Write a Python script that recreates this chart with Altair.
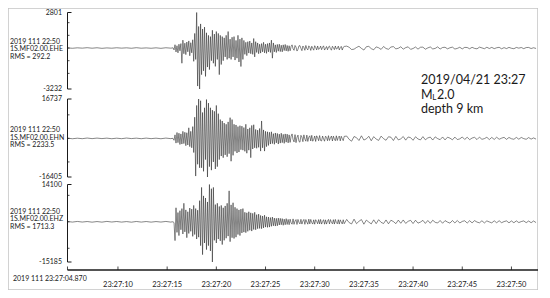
import altair as alt
import pandas as pd

# ---------------- data ----------------
HEADER = "2019 111 22:50"
STATIONS = ["1S.MF02.00.EHE", "1S.MF02.00.EHN", "1S.MF02.00.EHZ"]
RMS = ["RMS = 292.2", "RMS = 2233.5", "RMS = 1713.3"]
Y_MAX = [2801, 16737, 14100]
Y_MIN = [-3232, -16405, -15185]
Y_MINOR = [[-2000, -1000, 0, 1000, 2000], [-10000, 0, 10000], [-10000, 0, 10000]]
START_LABEL = "2019 111 23:27:04.870"
T_START, T_END = 4.87, 52.7
X_TICKS = [10, 15, 20, 25, 30, 35, 40, 45, 50]
TITLE_LINES = ["2019/04/21 23:27", "depth 9 km"]

# sampling of the three segments (start time, step in seconds)
PRE_T0, PRE_DT = 4.87, 0.5
ACT_T0, ACT_DT = 15.5, 0.1
CODA_T0, CODA_DT = 33.25, 0.25

pre_ehe = [10, -20, 15, -10, 25, -15, 20, -25, 10, -15, 20, -10, 15, -20, 25, -15, 10, -20, 15, -25, 20, -10]
pre_ehn = [100, -150, 80, -120, 150, -100, 130, -90, 110, -140, 90, -120, 150, -80, 100, -130, 120, -110, 90, -150, 130, -100]
pre_ehz = [120, -100, 140, -90, 110, -130, 100, -120, 150, -80, 120, -110, 90, -140, 130, -100, 110, -120, 100, -90, 140, -110]

act_ehe = [
    0, 20, -150, 260, -310, 180, -380, 300, -220, 350,
    -1200, 620, -450, 380, -520, 470, -300, 560, -610, 420,
    -380, 650, -1050, 1150, -900, 2801, -3000, 1700, -3232, 1900,
    -2100, 1500, -1800, 1650, -2240, 1200, -1500, 1000, -1700, 900,
    -1000, 1400, -1200, 1100, -1450, 1300, -900, 1150, -2100, 1000,
    -1300, 900, -1000, 800, -700, 1000, -900, 1300, -800, 700,
    -900, 850, -700, 900, -950, 600, -800, 1000, -1100, 700,
    -1460, 800, -900, 600, -500, 450, -600, 500, -400, 550,
    -450, 400, -500, 750, -700, 500, -350, 400, -450, 300,
    -400, 350, -300, 450, -380, 300, -420, 350, -300, 400,
    -350, 620, -800, 400, -300, 250, -350, 280, -250, 300,
    -280, 220, -300, 250, -200, 280, -230, 200, -260, 180,
    -220, 120, 250, -60, -180, 200, 80, -240, -100, 170,
    190, -30, -210, 160, 40, -180, 200, -50, -150, 170,
    60, -190, 140, -20, -170, 180, 50, -150, 160, -110,
    -40, 150, -130, 60, 170, -160, -30, 120, -140, 90,
    150, -60, -170, 140, 20, -130, 160, -80, -40, 150,
    -150, 30, 130, -160, 60, 120,
]
act_ehn = [
    0, 0, -800, 1500, -2000, 2500, -1800, 2200, -2600, 1900,
    -2400, 3000, -2200, 2600, -3100, 2400, -2800, 4500, -3500, 3000,
    -4000, 5000, -6000, 9000, -16000, 14000, -11000, 16737, -12500, 16000,
    -12500, 11000, -14000, 13000, -9000, 16500, -16405, 15000, -12000, 13000,
    -13500, 12000, -10000, 11500, -13000, 14000, -12000, 10500, -9000, 8000,
    -7500, 7400, -8200, 6500, -7000, 6000, -7800, 7000, -6500, 8800,
    -9700, 8000, -7200, 6000, -5500, 5700, -6200, 5000, -5800, 5400,
    -4800, 5200, -5000, 4600, -5500, 6000, -6300, 4000, -5000, 4500,
    -8200, 5500, -4500, 5800, -4000, 3800, -4200, 3500, -3800, 4200,
    -5400, 7400, -4000, 3600, -5400, 3000, -3500, 2800, -3000, 2600,
    -2400, 2800, -2200, 2000, -2500, 2300, -1900, 2100, -2400, 1800,
    -2000, 2200, -1800, 1700, -2100, 1900, -1600, 1800, -1900, 1500,
    -1700, 900, 1900, -500, -1500, 1600, -1800, 400, 1400, -1300,
    -1600, 1300, 600, -1400, 1500, -300, -1200, 1400, -1300, 500,
    1100, -1100, 1300, -1200, -400, 1000, -1300, 1100, 300, -1000,
    1200, -900, -1100, 1000, -200, -1200, 950, 500, -1000, 1150,
    -900, 200, 1000, -1100, 950, -300, -1000, 1100, -900, 400,
    1000, -1050, 900, -100, -950, 850,
]
act_ehz = [
    0, 0, -300, -7100, 5300, -4000, 3500, -5200, 4200, -3000,
    5000, -4600, 7000, -3800, 4500, -6000, 3800, -4400, 5200, -3600,
    4800, -5500, 6200, -4800, 5000, -6500, 4400, -5800, 8000, -9000,
    13000, -12400, 9800, -8000, 9000, -10500, 7500, -9000, 14100, -11000,
    12500, -15185, 13000, -7000, 6500, -8000, 7000, -6500, 5800, -7200,
    6200, -8600, 5300, -7000, 6000, -6200, 7000, -5400, 11700, -7500,
    6400, -6000, 7200, -6300, 5500, -5800, 5000, -4800, 4500, -5200,
    4800, -4200, 5000, -3900, 3600, -4100, 3400, -3600, 3800, -3200,
    3400, -3500, 3200, -2900, 3600, -3000, 2700, -2600, 2900, -2500,
    2400, -2600, 2200, -2300, 2500, -2000, 1900, -2100, 1800, -2000,
    1600, -1700, 1800, -1500, 1400, -1600, 1300, -1500, 1400, -1200,
    1300, -1100, 1200, -1300, 1000, -1100, 1200, -1000, 900, -1100,
    1000, -400, -900, 1100, -950, 300, 850, -1000, 900, -200,
    -800, 950, -850, 300, 900, -950, 850, -100, -900, 1000,
    -800, 900, -300, -850, 750, -900, 800, 200, -750, 850,
    -800, 900, -850, 100, 800, -900, 750, -850, 300, 900,
    -800, 850, -200, -750, 800, -850, 900, -300, -750, 800,
    -850, 750, -100, -800, 780, -720,
]

coda_ehe = [
    150, 60, -120, -90, 40, 140, -30, -160, 100, 130,
    -50, -140, 90, 20, -110, 120, -40, -100, 80, 110,
    -70, -20, 100, -90, 30, 95, -105, -40, 80, -90,
    60, 70, -95, 10, 85, -75, -30, 90, -80, 40,
    60, -65, 20, 70, -80, -30, 60, -70, 50, 40,
    -60, 55, -30, -65, 70, 10, -55, 60, -40, 50,
    -50, 20, 55, -60, 30, -45, 50, -20, -55, 45,
    -10, 40, -50, 35, 45, -40, 20, -35,
]
coda_ehn = [
    1000, -400, -1200, 800, 300, -900, 1100, -700, -200, 900,
    -1000, 750, -300, -850, 950, -100, -800, 700, 500, -900,
    850, -650, -200, 800, -750, 600, 300, -800, 700, -250,
    -650, 750, -600, 200, 550, -700, 650, -100, -550, 600,
    -650, 500, 100, -600, 550, -500, -200, 600, -450, 500,
    -550, 150, 450, -500, 550, -400, -100, 480, -500, 420,
    -450, 500, -380, 100, 450, -420, 400, -150, -380, 420,
    -350, 400, -100, -380, 350, -300, 200, -300,
]
coda_ehz = [
    900, -300, -800, 1000, -700, 200, 850, -900, 650, -100,
    -800, 750, -700, 800, -200, -650, 700, -750, 600, 100,
    -700, 650, -550, 700, -600, 200, 550, -650, 600, -500,
    -100, 550, -600, 500, -550, 600, -200, -450, 500, -550,
    450, -100, -500, 480, -420, 500, -450, 150, 400, -480,
    420, -400, 450, -100, -380, 400, -420, 350, -50, -400,
    380, -350, 400, -330, 100, 350, -380, 320, -350, 360,
    -300, 100, 340, -320, 300, -340, 310, -290,
]

TRACES = [
    (pre_ehe, act_ehe, coda_ehe),
    (pre_ehn, act_ehn, coda_ehn),
    (pre_ehz, act_ehz, coda_ehz),
]

# ---------------- layout / style ----------------
W, H = 530, 282
X_RANGE = [59.5, 530]
PX_TOP = [4.5, 91, 176.5]
PX_BOTTOM = [81, 169, 254]
LABEL_Y = [[33.7, 41.3, 48.7], [122, 129.7, 137.3], [203.7, 211.3, 218.7]]
AXIS_Y = 262
FONT = "Lato"
INK = "#1a1a1a"
TRACE_INK = "#222222"

xscale = alt.Scale(domain=[T_START, T_END], range=X_RANGE, nice=False, zero=False)


def yscale(k):
    return alt.Scale(domain=[Y_MIN[k], Y_MAX[k]], range=[PX_BOTTOM[k], PX_TOP[k]],
                     nice=False, zero=False)


def trace_frame(k):
    pre, act, coda = TRACES[k]
    t = [PRE_T0 + PRE_DT * i for i in range(len(pre))]
    t += [ACT_T0 + ACT_DT * i for i in range(len(act))]
    t += [CODA_T0 + CODA_DT * i for i in range(len(coda))]
    return pd.DataFrame({"t": t, "v": pre + act + coda})


layers = []
for k in range(3):
    ys = yscale(k)
    # waveform
    layers.append(
        alt.Chart(trace_frame(k)).mark_line(color=TRACE_INK, strokeWidth=0.55).encode(
            x=alt.X("t:Q", scale=xscale, axis=None),
            y=alt.Y("v:Q", scale=ys, axis=None),
        )
    )
    # vertical axis line
    layers.append(
        alt.Chart(pd.DataFrame({"lo": [Y_MIN[k]], "hi": [Y_MAX[k]]}))
        .mark_rule(color=INK, strokeWidth=1)
        .encode(x=alt.value(59.5), y=alt.Y("lo:Q", scale=ys, axis=None), y2="hi:Q")
    )
    # end ticks (bracket)
    layers.append(
        alt.Chart(pd.DataFrame({"v": [Y_MIN[k], Y_MAX[k]]}))
        .mark_rule(color=INK, strokeWidth=1)
        .encode(x=alt.value(59.5), x2=alt.value(63.5), y=alt.Y("v:Q", scale=ys, axis=None))
    )
    # minor ticks
    layers.append(
        alt.Chart(pd.DataFrame({"v": Y_MINOR[k]}))
        .mark_rule(color=INK, strokeWidth=0.8)
        .encode(x=alt.value(59.5), x2=alt.value(61.5), y=alt.Y("v:Q", scale=ys, axis=None))
    )
    # max / min labels
    layers.append(
        alt.Chart(pd.DataFrame({"v": [Y_MAX[k], Y_MIN[k]],
                                "lab": [str(Y_MAX[k]), str(Y_MIN[k])]}))
        .mark_text(align="right", baseline="middle", font=FONT, fontSize=7, color=INK)
        .encode(x=alt.value(54), y=alt.Y("v:Q", scale=ys, axis=None), text="lab:N")
    )
    # station text block
    for line, yy in zip([HEADER, STATIONS[k], RMS[k]], LABEL_Y[k]):
        layers.append(
            alt.Chart(pd.DataFrame({"s": [line]}))
            .mark_text(align="left", baseline="middle", font=FONT, fontSize=7, color=INK)
            .encode(x=alt.value(2), y=alt.value(yy), text="s:N")
        )

# x axis
layers.append(
    alt.Chart(pd.DataFrame({"a": [T_START], "b": [T_END]}))
    .mark_rule(color=INK, strokeWidth=1.3)
    .encode(x=alt.X("a:Q", scale=xscale, axis=None), x2="b:Q", y=alt.value(AXIS_Y))
)
layers.append(
    alt.Chart(pd.DataFrame({"t": [T_START] + X_TICKS}))
    .mark_rule(color=INK, strokeWidth=0.8)
    .encode(x=alt.X("t:Q", scale=xscale, axis=None), y=alt.value(AXIS_Y - 3.5), y2=alt.value(AXIS_Y))
)
layers.append(
    alt.Chart(pd.DataFrame({"t": X_TICKS, "lab": ["23:27:%02d" % s for s in X_TICKS]}))
    .mark_text(align="center", baseline="middle", font=FONT, fontSize=7.5, color=INK)
    .encode(x=alt.X("t:Q", scale=xscale, axis=None), y=alt.value(277), text="lab:N")
)
layers.append(
    alt.Chart(pd.DataFrame({"s": [START_LABEL]}))
    .mark_text(align="left", baseline="middle", font=FONT, fontSize=7, color=INK)
    .encode(x=alt.value(5), y=alt.value(271.3), text="s:N")
)

# event annotation
ann = [
    (TITLE_LINES[0], 413, 71.5, 12.5),
    ("M", 413, 86.5, 12.5),
    ("L", 424.2, 89.5, 8),
    ("2.0", 429, 86.5, 12.5),
    (TITLE_LINES[1], 413, 101, 12.5),
]
for txt, xx, yy, fs in ann:
    layers.append(
        alt.Chart(pd.DataFrame({"s": [txt]}))
        .mark_text(align="left", baseline="middle", font=FONT, fontSize=fs, color=INK)
        .encode(x=alt.value(xx), y=alt.value(yy), text="s:N")
    )

chart = (
    alt.layer(*layers)
    .resolve_scale(y="independent")
    .properties(width=W, height=H, padding=0, autosize=alt.AutoSizeParams(type="none"))
    .configure_view(stroke="#c4c4c4", strokeWidth=1.5)
)

chart.save("out.html", embed_options={"renderer": "svg", "actions": False})
